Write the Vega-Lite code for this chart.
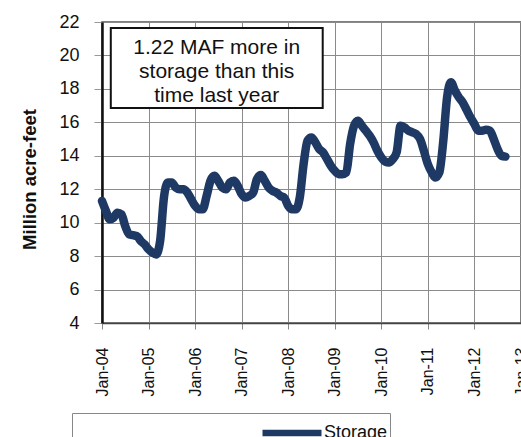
{
  "$schema": "https://vega.github.io/schema/vega-lite/v6.json",
  "width": 419,
  "height": 301,
  "autosize": {"type": "none"},
  "padding": {"left": 102, "top": 22, "right": 0, "bottom": 114},
  "background": "white",
  "config": {
    "font": "Liberation Sans",
    "view": {"stroke": "#555", "strokeWidth": 1.5},
    "axisY": {
      "labelOverlap": false,
      "labelFlush": false,
      "labelBound": false,
      "labelFontSize": 18,
      "labelColor": "#111",
      "labelPadding": 15,
      "tickSize": 8,
      "tickColor": "#999",
      "domainColor": "#111",
      "domainWidth": 2.5,
      "grid": true,
      "gridColor": "#8a8a8a",
      "gridWidth": 1,
      "titleFontSize": 18.5,
      "titleFontWeight": "bold",
      "titleColor": "#111",
      "titlePadding": 19,
      "titleY": 157
    },
    "axisX": {
      "labelAngle": 270,
      "labelFontSize": 16,
      "labelColor": "#111",
      "labelPadding": 18,
      "labelFlush": false,
      "labelOverlap": false,
      "labelBound": false,
      "tickSize": 6,
      "tickColor": "#888",
      "domainColor": "#444",
      "domainWidth": 1.5,
      "grid": true,
      "gridColor": "#8a8a8a",
      "gridWidth": 1
    }
  },
  "datasets": {
    "storage": [
      {"date": "2004-01-01", "storage": 11.3}, {"date": "2004-02-01", "storage": 10.7}, {"date": "2004-03-01", "storage": 10.2}, {"date": "2004-04-01", "storage": 10.3}, {"date": "2004-05-01", "storage": 10.6}, {"date": "2004-06-01", "storage": 10.5}, {"date": "2004-07-01", "storage": 9.8}, {"date": "2004-08-01", "storage": 9.3}, {"date": "2004-09-01", "storage": 9.25}, {"date": "2004-10-01", "storage": 9.2}, {"date": "2004-11-01", "storage": 8.9}, {"date": "2004-12-01", "storage": 8.7},
      {"date": "2005-01-01", "storage": 8.4}, {"date": "2005-02-01", "storage": 8.2}, {"date": "2005-03-01", "storage": 8.1}, {"date": "2005-04-01", "storage": 8.9}, {"date": "2005-05-01", "storage": 11.5}, {"date": "2005-06-01", "storage": 12.4}, {"date": "2005-07-01", "storage": 12.4}, {"date": "2005-08-01", "storage": 12.1}, {"date": "2005-09-01", "storage": 12.0}, {"date": "2005-10-01", "storage": 12.0}, {"date": "2005-11-01", "storage": 11.8}, {"date": "2005-12-01", "storage": 11.4},
      {"date": "2006-01-01", "storage": 11.0}, {"date": "2006-02-01", "storage": 10.8}, {"date": "2006-03-01", "storage": 10.8}, {"date": "2006-04-01", "storage": 11.6}, {"date": "2006-05-01", "storage": 12.5}, {"date": "2006-06-01", "storage": 12.8}, {"date": "2006-07-01", "storage": 12.5}, {"date": "2006-08-01", "storage": 12.1}, {"date": "2006-09-01", "storage": 12.0}, {"date": "2006-10-01", "storage": 12.4}, {"date": "2006-11-01", "storage": 12.5}, {"date": "2006-12-01", "storage": 12.2},
      {"date": "2007-01-01", "storage": 11.7}, {"date": "2007-02-01", "storage": 11.5}, {"date": "2007-03-01", "storage": 11.6}, {"date": "2007-04-01", "storage": 11.8}, {"date": "2007-05-01", "storage": 12.6}, {"date": "2007-06-01", "storage": 12.85}, {"date": "2007-07-01", "storage": 12.5}, {"date": "2007-08-01", "storage": 12.1}, {"date": "2007-09-01", "storage": 11.9}, {"date": "2007-10-01", "storage": 11.8}, {"date": "2007-11-01", "storage": 11.6}, {"date": "2007-12-01", "storage": 11.5},
      {"date": "2008-01-01", "storage": 11.0}, {"date": "2008-02-01", "storage": 10.8}, {"date": "2008-03-01", "storage": 10.8}, {"date": "2008-04-01", "storage": 11.5}, {"date": "2008-05-01", "storage": 13.5}, {"date": "2008-06-01", "storage": 14.9}, {"date": "2008-07-01", "storage": 15.1}, {"date": "2008-08-01", "storage": 14.8}, {"date": "2008-09-01", "storage": 14.4}, {"date": "2008-10-01", "storage": 14.2}, {"date": "2008-11-01", "storage": 13.8}, {"date": "2008-12-01", "storage": 13.4},
      {"date": "2009-01-01", "storage": 13.1}, {"date": "2009-02-01", "storage": 12.9}, {"date": "2009-03-01", "storage": 12.9}, {"date": "2009-04-01", "storage": 13.0}, {"date": "2009-05-01", "storage": 14.7}, {"date": "2009-06-01", "storage": 15.8}, {"date": "2009-07-01", "storage": 16.1}, {"date": "2009-08-01", "storage": 15.8}, {"date": "2009-09-01", "storage": 15.5}, {"date": "2009-10-01", "storage": 15.2}, {"date": "2009-11-01", "storage": 14.8}, {"date": "2009-12-01", "storage": 14.3},
      {"date": "2010-01-01", "storage": 13.9}, {"date": "2010-02-01", "storage": 13.65}, {"date": "2010-03-01", "storage": 13.6}, {"date": "2010-04-01", "storage": 13.8}, {"date": "2010-05-01", "storage": 14.2}, {"date": "2010-06-01", "storage": 15.8}, {"date": "2010-07-01", "storage": 15.7}, {"date": "2010-08-01", "storage": 15.5}, {"date": "2010-09-01", "storage": 15.4}, {"date": "2010-10-01", "storage": 15.3}, {"date": "2010-11-01", "storage": 15.0}, {"date": "2010-12-01", "storage": 14.3},
      {"date": "2011-01-01", "storage": 13.5}, {"date": "2011-02-01", "storage": 13.0}, {"date": "2011-03-01", "storage": 12.7}, {"date": "2011-04-01", "storage": 13.0}, {"date": "2011-05-01", "storage": 14.8}, {"date": "2011-06-01", "storage": 17.5}, {"date": "2011-07-01", "storage": 18.4}, {"date": "2011-08-01", "storage": 17.9}, {"date": "2011-09-01", "storage": 17.5}, {"date": "2011-10-01", "storage": 17.2}, {"date": "2011-11-01", "storage": 16.75}, {"date": "2011-12-01", "storage": 16.3},
      {"date": "2012-01-01", "storage": 15.9}, {"date": "2012-02-01", "storage": 15.5}, {"date": "2012-03-01", "storage": 15.5}, {"date": "2012-04-01", "storage": 15.55}, {"date": "2012-05-01", "storage": 15.5}, {"date": "2012-06-01", "storage": 15.0}, {"date": "2012-07-01", "storage": 14.4}, {"date": "2012-08-01", "storage": 14.0}, {"date": "2012-09-01", "storage": 13.95}
    ],
    "note": [{"label": "1.22 MAF more in storage than this time last year"}]
  },
  "layer": [
    {
      "data": {"name": "storage"},
      "mark": {"type": "line", "strokeWidth": 8.5, "strokeCap": "round", "strokeJoin": "round", "interpolate": "monotone"},
      "encoding": {
        "x": {
          "field": "date", "type": "temporal",
          "scale": {"type": "utc", "domain": [{"year": 2004, "month": 1, "date": 1, "utc": true}, {"year": 2013, "month": 1, "date": 1, "utc": true}]},
          "axis": {
            "title": null,
            "format": "%b-%y",
            "values": [
              {"year": 2004, "month": 1, "date": 1, "utc": true}, {"year": 2005, "month": 1, "date": 1, "utc": true}, {"year": 2006, "month": 1, "date": 1, "utc": true}, {"year": 2007, "month": 1, "date": 1, "utc": true}, {"year": 2008, "month": 1, "date": 1, "utc": true}, {"year": 2009, "month": 1, "date": 1, "utc": true}, {"year": 2010, "month": 1, "date": 1, "utc": true}, {"year": 2011, "month": 1, "date": 1, "utc": true}, {"year": 2012, "month": 1, "date": 1, "utc": true}, {"year": 2013, "month": 1, "date": 1, "utc": true}
            ]
          }
        },
        "y": {
          "field": "storage", "type": "quantitative",
          "scale": {"domain": [4, 22], "nice": false, "zero": false},
          "axis": {
            "title": "Million acre-feet",
            "values": [4, 6, 8, 10, 12, 14, 16, 18, 20, 22]
          }
        },
        "color": {
          "datum": "Storage",
          "scale": {"range": ["#1e3a64"]},
          "legend": {
            "title": null,
            "orient": "none",
            "legendX": -30,
            "legendY": 391,
            "padding": 2,
            "strokeColor": "#888",
            "symbolType": "M-2,0H2",
            "symbolStrokeWidth": 6.5,
            "symbolSize": 870,
            "symbolOffset": 200,
            "labelOffset": 14,
            "labelFontSize": 18,
            "labelColor": "#111"
          }
        }
      }
    },
    {
      "data": {"name": "note"},
      "mark": {"type": "rect", "fill": "white", "stroke": "#111", "strokeWidth": 2},
      "encoding": {
        "x": {"datum": {"year": 2004, "month": 3, "date": 10, "utc": true}, "type": "temporal"},
        "x2": {"datum": {"year": 2008, "month": 9, "date": 28, "utc": true}},
        "y": {"datum": 21.64, "type": "quantitative", "axis": {"title": "Million acre-feet", "values": [4, 6, 8, 10, 12, 14, 16, 18, 20, 22]}},
        "y2": {"datum": 16.86}
      }
    },
    {
      "data": {"name": "note"},
      "mark": {"type": "text", "fontSize": 21, "color": "#111", "lineHeight": 24, "align": "center", "baseline": "alphabetic"},
      "encoding": {
        "x": {"datum": {"year": 2006, "month": 6, "date": 19, "utc": true}, "type": "temporal"},
        "y": {"datum": 20.09, "type": "quantitative", "axis": {"title": "Million acre-feet", "values": [4, 6, 8, 10, 12, 14, 16, 18, 20, 22]}},
        "text": {"value": ["1.22 MAF more in", "storage than this", "time last year"]}
      }
    }
  ]
}
